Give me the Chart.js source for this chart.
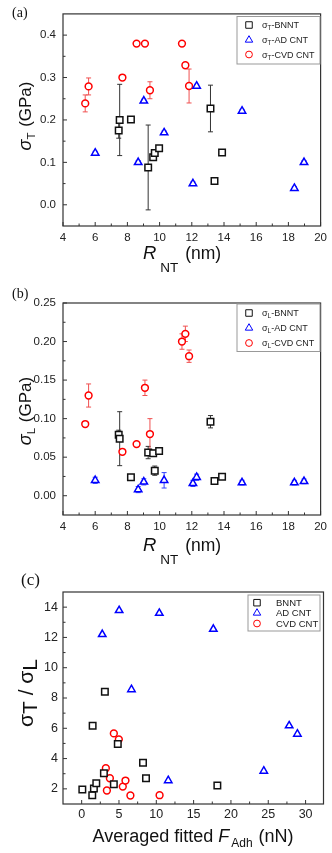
<!DOCTYPE html>
<html>
<head>
<meta charset="utf-8">
<script src="https://cdn.jsdelivr.net/npm/chart.js@4.4.1/dist/chart.umd.min.js"></script>
<style>
  body { margin: 0; background: #fff; }
  #wrap { position: relative; width: 332px; height: 853px; overflow: hidden; }
  canvas { position: absolute; left: 0; }
</style>
</head>
<body>
<div id="wrap">
  <canvas id="chart-a" width="332" height="280" style="top:0"></canvas>
  <canvas id="chart-b" width="332" height="292" style="top:280px"></canvas>
  <canvas id="chart-c" width="332" height="293" style="top:560px"></canvas>
</div>
<script>
// =========================
//  DATA
// =========================
// panel (a) / (b): stress vs tube radius R_NT (nm)
const bnntR      = [7.46, 7.52, 8.22, 9.29, 9.60, 9.70, 9.97, 13.16, 13.41, 13.88];
const bnntSigT   = [0.175, 0.200, 0.201, 0.088, 0.112, 0.122, 0.133, 0.227, 0.056, 0.123];
const bnntSigTEr = [0.018, 0.084, 0, 0.100, 0, 0, 0, 0.055, 0, 0];
const bnntSigL   = [0.079, 0.074, 0.024, 0.056, 0.055, 0.0325, 0.058, 0.096, 0.019, 0.0247];
const bnntSigLEr = [0.006, 0.035, 0.003, 0.008, 0.004, 0.006, 0.003, 0.008, 0.003, 0.003];

const adR        = [6.0, 8.67, 9.02, 10.28, 12.07, 12.3, 15.12, 18.37, 18.97];
const adSigT     = [0.122, 0.100, 0.245, 0.170, 0.050, 0.280, 0.221, 0.039, 0.100];
const adSigTEr   = [0.004, 0.004, 0.004, 0.004, 0.004, 0.004, 0.004, 0.004, 0.004];
const adSigL     = [0.020, 0.008, 0.018, 0.020, 0.016, 0.024, 0.017, 0.017, 0.0186];
const adSigLEr   = [0.004, 0.004, 0.004, 0.010, 0.004, 0.004, 0.003, 0.003, 0.003];

const cvdR       = [5.38, 5.59, 7.69, 8.57, 9.09, 9.40, 11.39, 11.60, 11.83];
const cvdSigT    = [0.239, 0.279, 0.300, 0.380, 0.380, 0.270, 0.380, 0.329, 0.280];
const cvdSigTEr  = [0.020, 0.020, 0.005, 0, 0, 0.020, 0, 0.005, 0.040];
const cvdSigL    = [0.093, 0.130, 0.057, 0.067, 0.140, 0.080, 0.200, 0.210, 0.181];
const cvdSigLEr  = [0.003, 0.015, 0.003, 0.003, 0.010, 0.020, 0.010, 0.010, 0.008];

// panel (c): sigma_T / sigma_L vs averaged fitted adhesion force (nN)
const bnntF      = [0.09, 1.47, 1.42, 1.64, 1.96, 3.11, 2.98, 4.31, 4.84, 8.22, 8.62, 18.18];
const bnntRatio  = [1.96, 6.17, 1.58, 2.02, 2.37, 8.41, 3.03, 2.31, 4.96, 3.73, 2.70, 2.22];
const adF        = [2.76, 5.02, 6.67, 10.40, 11.60, 17.64, 24.40, 27.80, 28.90];
const adRatio    = [12.20, 13.78, 8.56, 13.60, 2.55, 12.55, 3.18, 6.17, 5.62];
const cvdF       = [3.24, 3.38, 3.78, 4.31, 4.98, 5.51, 5.87, 6.53, 10.44];
const cvdRatio   = [3.36, 1.89, 2.70, 5.66, 5.27, 2.15, 2.55, 1.56, 1.58];

// tick values
const rTicks      = [4, 6, 8, 10, 12, 14, 16, 18, 20];
const sigTTicks   = [0, 0.1, 0.2, 0.3, 0.4];
const sigLTicks   = [0, 0.05, 0.10, 0.15, 0.20, 0.25];
const fTicks      = [0, 5, 10, 15, 20, 25, 30];
const ratioTicks  = [2, 4, 6, 8, 10, 12, 14];

// =========================
//  STYLE
// =========================
const SANS = "'Liberation Sans', Arial, sans-serif";
const SERIF = "'Liberation Serif', 'Times New Roman', serif";
const AXIS = "#333";
const BLACK = "#111", BLUE = "#0000ff", RED = "#ff0000";

const markers = {
    bnnt: { pointStyle: "rect", radius: 4.6, color: BLACK, err: "#333" },
    ad:   { pointStyle: "triangle", radius: 4.3, color: BLUE, err: "#3344ff" },
    cvd:  { pointStyle: "circle", radius: 3.4, color: RED, err: "#f05050" }
};

// =========================
//  HELPERS
// =========================
function pts(xs, ys) {
    return xs.map((x, i) => ({ x, y: ys[i] }));
}

function series(kind, xs, ys, errs) {
    const m = markers[kind];
    return {
        data: pts(xs, ys),
        errors: errs || null,
        errorColor: m.err,
        pointStyle: m.pointStyle,
        pointRadius: m.radius,
        pointBorderWidth: 1.5,
        pointBorderColor: m.color,
        pointBackgroundColor: "#fff",
        showLine: false
    };
}

// segs: [{t, it, s, dy, gap}]
function richWidth(ctx, segs, size) {
    let w = 0;
    segs.forEach(sg => {
        ctx.font = (sg.it ? "italic " : "") + (sg.s || size) + "px " + SANS;
        w += (sg.gap || 0) + ctx.measureText(sg.t).width;
    });
    return w;
}

function drawRich(ctx, segs, x, y, size) {
    let cx = x;
    segs.forEach(sg => {
        ctx.font = (sg.it ? "italic " : "") + (sg.s || size) + "px " + SANS;
        cx += sg.gap || 0;
        ctx.fillText(sg.t, cx, y + (sg.dy || 0));
        cx += ctx.measureText(sg.t).width;
    });
}

function isMajor(v, majors) {
    return majors.some(m => Math.abs(m - v) < 1e-9);
}

const panelDecor = {
    id: "panelDecor",
    beforeDatasetsDraw(chart) {
        const { ctx, scales: { x, y } } = chart;
        chart.data.datasets.forEach(ds => {
            if (!ds.errors) return;
            ctx.save();
            ctx.strokeStyle = ds.errorColor;
            ctx.lineWidth = 1;
            ds.data.forEach((p, i) => {
                const e = ds.errors[i];
                if (!e) return;
                const px = x.getPixelForValue(p.x);
                const top = y.getPixelForValue(p.y + e);
                const bot = y.getPixelForValue(p.y - e);
                ctx.beginPath();
                ctx.moveTo(px, top); ctx.lineTo(px, bot);
                ctx.moveTo(px - 2.5, top); ctx.lineTo(px + 2.5, top);
                ctx.moveTo(px - 2.5, bot); ctx.lineTo(px + 2.5, bot);
                ctx.stroke();
            });
            ctx.restore();
        });
    },
    afterDraw(chart, args, o) {
        const { ctx, chartArea: a, scales: { x, y } } = chart;
        ctx.save();

        // frame
        ctx.strokeStyle = AXIS;
        ctx.lineWidth = 1.2;
        ctx.strokeRect(a.left, a.top, a.right - a.left, a.bottom - a.top);

        // inward ticks on bottom and left axes
        ctx.lineWidth = 1;
        ctx.beginPath();
        const xMaj = x.ticks.map(t => t.value);
        const yMaj = y.ticks.map(t => t.value);
        xMaj.forEach(v => {
            const px = x.getPixelForValue(v);
            ctx.moveTo(px, a.bottom); ctx.lineTo(px, a.bottom - 4);
        });
        yMaj.forEach(v => {
            const py = y.getPixelForValue(v);
            ctx.moveTo(a.left, py); ctx.lineTo(a.left + 4, py);
        });
        for (let k = Math.ceil(x.min / o.minorX); k * o.minorX <= x.max; k++) {
            const v = k * o.minorX;
            const px = x.getPixelForValue(v);
            if (isMajor(v, xMaj) || px - a.left < 1 || a.right - px < 1) continue;
            ctx.moveTo(px, a.bottom); ctx.lineTo(px, a.bottom - 2.5);
        }
        for (let k = Math.ceil(y.min / o.minorY - 1e-9); k * o.minorY <= y.max + 1e-9; k++) {
            const v = k * o.minorY;
            const py = y.getPixelForValue(v);
            if (isMajor(v, yMaj) || py - a.top < 1 || a.bottom - py < 1) continue;
            ctx.moveTo(a.left, py); ctx.lineTo(a.left + 2.5, py);
        }
        ctx.stroke();

        ctx.fillStyle = "#111";
        ctx.textBaseline = "alphabetic";
        ctx.textAlign = "left";

        // x title
        const xt = o.xTitle;
        const xw = richWidth(ctx, xt.segs, xt.size);
        drawRich(ctx, xt.segs, xt.cx - xw / 2, xt.base, xt.size);

        // y title (rotated)
        const yt = o.yTitle;
        const yw = richWidth(ctx, yt.segs, yt.size);
        ctx.save();
        ctx.translate(yt.base, yt.cy);
        ctx.rotate(-Math.PI / 2);
        drawRich(ctx, yt.segs, -yw / 2, 0, yt.size);
        ctx.restore();

        // panel label
        ctx.font = o.label.size + "px " + SERIF;
        ctx.fillText(o.label.text, o.label.x, o.label.y);

        // legend
        const lg = o.legend;
        ctx.strokeStyle = "#999";
        ctx.lineWidth = 1;
        ctx.strokeRect(lg.box[0], lg.box[1], lg.box[2], lg.box[3]);
        lg.items.forEach((it, i) => {
            const m = markers[it.kind];
            const ry = lg.rows[i];
            ctx.save();
            ctx.strokeStyle = m.color;
            ctx.fillStyle = "#fff";
            Chart.helpers.drawPoint(ctx, { pointStyle: m.pointStyle, radius: m.radius, borderWidth: 1.8, rotation: 0 }, lg.mx, ry);
            ctx.restore();
            ctx.fillStyle = "#222";
            drawRich(ctx, it.segs, lg.tx, ry + 3.3, lg.size);
        });

        ctx.restore();
    }
};

function makePanel(id, cfg) {
    const canvas = document.getElementById(id);
    const H = canvas.height;
    new Chart(canvas, {
        type: "scatter",
        data: { datasets: cfg.datasets },
        options: {
            responsive: false,
            animation: false,
            devicePixelRatio: 1,
            layout: { padding: { left: 0, top: cfg.area.top, right: 332 - cfg.area.right, bottom: 0 } },
            plugins: {
                legend: { display: false },
                tooltip: { enabled: false },
                panelDecor: cfg.decor
            },
            scales: {
                x: {
                    type: "linear",
                    min: cfg.x.min, max: cfg.x.max,
                    grid: { display: false, drawTicks: false },
                    border: { display: false },
                    ticks: {
                        autoSkip: false, maxRotation: 0,
                        padding: cfg.x.pad,
                        color: "#222",
                        font: { family: SANS, size: cfg.tickSize },
                        callback: cfg.x.fmt
                    },
                    afterBuildTicks: s => { s.ticks = cfg.x.ticks.map(v => ({ value: v })); },
                    afterFit: s => { s.height = H - cfg.area.bottom; }
                },
                y: {
                    type: "linear",
                    min: cfg.y.min, max: cfg.y.max,
                    grid: { display: false, drawTicks: false },
                    border: { display: false },
                    ticks: {
                        autoSkip: false,
                        padding: cfg.y.pad,
                        color: "#222",
                        font: { family: SANS, size: cfg.tickSize },
                        callback: cfg.y.fmt
                    },
                    afterBuildTicks: s => { s.ticks = cfg.y.ticks.map(v => ({ value: v })); },
                    afterFit: s => { s.width = cfg.area.left; }
                }
            }
        },
        plugins: [panelDecor]
    });
}

const sigmaSub = (sub, rest) => [{ t: "\u03c3" }, { t: sub, s: 6.5, dy: 2 }, { t: rest }];

// =========================
//  PANEL (a)
// =========================
makePanel("chart-a", {
    area: { left: 63, right: 322, top: 13, bottom: 226 },
    tickSize: 11.5,
    x: { min: 4, max: 20, ticks: rTicks, pad: 5, fmt: v => String(v) },
    y: { min: -0.05, max: 0.45, ticks: sigTTicks, pad: 7, fmt: v => v.toFixed(1) },
    datasets: [
        series("bnnt", bnntR, bnntSigT, bnntSigTEr),
        series("ad", adR, adSigT, adSigTEr),
        series("cvd", cvdR, cvdSigT, cvdSigTEr)
    ],
    decor: {
        minorX: 1, minorY: 0.05,
        xTitle: { cx: 182, base: 259, size: 17.5, segs: [{ t: "R", it: true, s: 18.5 }, { t: "NT", s: 13.5, dy: 13, gap: 4 }, { t: " (nm)", gap: 2 }] },
        yTitle: { cy: 116, base: 31, size: 17, segs: [{ t: "\u03c3", it: true, s: 18 }, { t: "T", s: 11.5, dy: 4 }, { t: " (GPa)", gap: 1 }] },
        label: { text: "(a)", x: 12, y: 17, size: 14 },
        legend: {
            box: [237, 16.5, 83, 47.5], rows: [25, 40, 54.5], mx: 249, tx: 262, size: 9,
            items: [
                { kind: "bnnt", segs: sigmaSub("T", "-BNNT") },
                { kind: "ad", segs: sigmaSub("T", "-AD CNT") },
                { kind: "cvd", segs: sigmaSub("T", "-CVD CNT") }
            ]
        }
    }
});

// =========================
//  PANEL (b)
// =========================
makePanel("chart-b", {
    area: { left: 63, right: 322, top: 23, bottom: 235 },
    tickSize: 11.5,
    x: { min: 4, max: 20, ticks: rTicks, pad: 5, fmt: v => String(v) },
    y: { min: -0.025, max: 0.25, ticks: sigLTicks, pad: 7, fmt: v => v.toFixed(2) },
    datasets: [
        series("bnnt", bnntR, bnntSigL, bnntSigLEr),
        series("ad", adR, adSigL, adSigLEr),
        series("cvd", cvdR, cvdSigL, cvdSigLEr)
    ],
    decor: {
        minorX: 1, minorY: 0.025,
        xTitle: { cx: 182, base: 271, size: 17.5, segs: [{ t: "R", it: true, s: 18.5 }, { t: "NT", s: 13.5, dy: 13, gap: 4 }, { t: " (nm)", gap: 2 }] },
        yTitle: { cy: 131, base: 31, size: 17, segs: [{ t: "\u03c3", it: true, s: 18 }, { t: "L", s: 11.5, dy: 4 }, { t: " (GPa)", gap: 1 }] },
        label: { text: "(b)", x: 12, y: 18, size: 14 },
        legend: {
            box: [237, 24, 83, 47.5], rows: [33, 48, 63], mx: 249, tx: 262, size: 9,
            items: [
                { kind: "bnnt", segs: sigmaSub("L", "-BNNT") },
                { kind: "ad", segs: sigmaSub("L", "-AD CNT") },
                { kind: "cvd", segs: sigmaSub("L", "-CVD CNT") }
            ]
        }
    }
});

// =========================
//  PANEL (c)
// =========================
makePanel("chart-c", {
    area: { left: 63, right: 323.5, top: 32, bottom: 244 },
    tickSize: 12.5,
    x: { min: -2.5, max: 32.4, ticks: fTicks, pad: 3, fmt: v => String(v) },
    y: { min: 1, max: 15, ticks: ratioTicks, pad: 5, fmt: v => String(v) },
    datasets: [
        series("bnnt", bnntF, bnntRatio),
        series("ad", adF, adRatio),
        series("cvd", cvdF, cvdRatio)
    ],
    decor: {
        minorX: 2.5, minorY: 1,
        xTitle: { cx: 193, base: 282, size: 18, segs: [{ t: "Averaged fitted " }, { t: "F", it: true }, { t: "Adh", s: 12, dy: 5, gap: 2 }, { t: " (nN)", gap: 1 }] },
        yTitle: { cy: 133, base: 33, size: 21, segs: [{ t: "\u03c3" }, { t: "T", dy: 4 }, { t: " / " }, { t: "\u03c3" }, { t: "L", dy: 4 }] },
        label: { text: "(c)", x: 21, y: 25, size: 17 },
        legend: {
            box: [248, 35, 72, 36], rows: [42.7, 53, 63.5], mx: 257, tx: 276, size: 9.5,
            items: [
                { kind: "bnnt", segs: [{ t: "BNNT" }] },
                { kind: "ad", segs: [{ t: "AD CNT" }] },
                { kind: "cvd", segs: [{ t: "CVD CNT" }] }
            ]
        }
    }
});
</script>
</body>
</html>
